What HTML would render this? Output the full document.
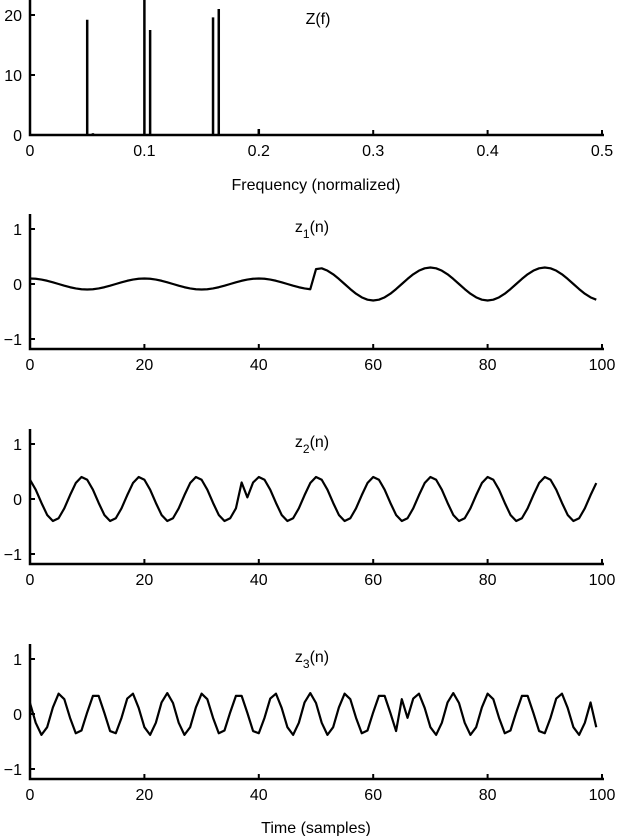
<!DOCTYPE html>
<html><head><meta charset="utf-8"><style>
body{margin:0;background:#fff}
svg{display:block;font-family:"Liberation Sans",sans-serif}
text{font-size:16px;fill:#000}
</style></head><body>
<svg id="s" width="618" height="836" viewBox="0 0 618 836" xmlns="http://www.w3.org/2000/svg"></svg>
<script>
const freqs=[0.05,0.055,0.1,0.105,0.16,0.165,0.2];
const mags=[19.2,0.3,24,17.5,19.6,21,1];
const fTicks=[0,0.1,0.2,0.3,0.4,0.5];
const fYTicks=[0,10,20];
const nTicks=[0,20,40,60,80,100];
const zYTicks=[-1,0,1];
const z1=[0.1,.095,.081,.059,.031,0,-.031,-.059,-.081,-.095,-.1,-.095,-.081,-.059,-.031,0,.031,.059,.081,.095,
0.1,.095,.081,.059,.031,0,-.031,-.059,-.081,-.095,-.1,-.095,-.081,-.059,-.031,0,.031,.059,.081,.095,
0.1,.095,.081,.059,.031,0,-.031,-.059,-.081,-.095,
.27,.285,.243,.177,.093,0,-.093,-.177,-.243,-.285,-.3,-.285,-.243,-.177,-.093,0,.093,.177,.243,.285,
.3,.285,.243,.177,.093,0,-.093,-.177,-.243,-.285,-.3,-.285,-.243,-.177,-.093,0,.093,.177,.243,.285,
.3,.285,.243,.177,.093,0,-.093,-.177,-.243,-.285];
const z2=[.35,.17,-.07,-.29,-.40,-.35,-.17,.07,.29,.40,.35,.17,-.07,-.29,-.40,-.35,-.17,.07,.29,.40,
.35,.17,-.07,-.29,-.40,-.35,-.17,.07,.29,.40,.35,.17,-.07,-.29,-.40,-.35,-.17,.30,.03,.30,
.40,.35,.17,-.07,-.29,-.40,-.35,-.17,.07,.29,.40,.35,.17,-.07,-.29,-.40,-.35,-.17,.07,.29,
.40,.35,.17,-.07,-.29,-.40,-.35,-.17,.07,.29,.40,.35,.17,-.07,-.29,-.40,-.35,-.17,.07,.29,
.40,.35,.17,-.07,-.29,-.40,-.35,-.17,.07,.29,.40,.35,.17,-.07,-.29,-.40,-.35,-.17,.07,.29];
const z3=[.20,-.16,-.38,-.24,.12,.37,.27,-.07,-.35,-.30,.03,.33,.33,.02,-.31,-.35,-.07,.28,.37,.11,-.24,-.38,-.16,.21,.38,
.20,-.16,-.38,-.24,.12,.37,.27,-.07,-.35,-.30,.03,.33,.33,.02,-.31,-.35,-.07,.28,.37,.11,-.24,-.38,-.16,.21,.38,
.20,-.16,-.38,-.24,.12,.37,.27,-.07,-.35,-.30,.03,.33,.33,.02,-.31,.27,-.07,.28,.37,.11,-.24,-.38,-.16,.21,.38,
.20,-.16,-.38,-.24,.12,.37,.27,-.07,-.35,-.30,.03,.33,.33,.02,-.31,-.35,-.07,.28,.37,.11,-.24,-.38,-.16,.21,-.24];
const NS="http://www.w3.org/2000/svg",S=document.getElementById('s');
function el(t,a,p){const e=document.createElementNS(NS,t);for(const k in a)e.setAttribute(k,a[k]);(p||S).appendChild(e);return e;}
function txt(x,y,s,anchor,p){const e=el('text',{x:x,y:y,'text-anchor':anchor||'middle'},p);e.textContent=s;return e;}
const X0=30,X1=602;
function axes(g,yTop,yBottom,sx,sy,xt,yt,xfmt){
  const ax=el('path',{d:`M${X0} ${yTop}V${yBottom}H${X1+2}`,stroke:'#000','stroke-width':2.5,fill:'none'},g);
  
  xt.forEach(v=>{const x=sx(v);el('line',{x1:x,x2:x,y1:yBottom,y2:yBottom-5,stroke:'#000','stroke-width':2},g);
    const t=txt(x,yBottom+21,xfmt(v),'middle',g);});
  yt.forEach(v=>{const y=sy(v);el('line',{x1:X0,x2:X0+5,y1:y,y2:y,stroke:'#000','stroke-width':2},g);
    const t=txt(22,y+6,v<0?'\u2212'+(-v):String(v),'end',g);});
}
{const g=el('g',{});
 const sx=v=>X0+v/0.5*(X1-X0),sy=v=>135-v*6;
 freqs.forEach((f,i)=>{const b=el('line',{x1:sx(f),x2:sx(f),y1:135,y2:Math.max(0,sy(mags[i])),stroke:'#000','stroke-width':2.5},g);
   });
 axes(g,0,135,sx,sy,fTicks,fYTicks,v=>String(v));
 const t=txt(318,24,'Z(f)','middle',g);t.setAttribute('font-size','18');
 const xl=txt(316,190,'Frequency (normalized)','middle',g);
}
function panel(data,zero,sub,name){
  const g=el('g',{});
  const sx=v=>X0+v/100*(X1-X0),sy=v=>zero-v*55;
  axes(g,zero-70,zero+65,sx,sy,nTicks,zYTicks,v=>String(v));
  const p=el('polyline',{points:data.map((v,i)=>sx(i)+','+sy(v)).join(' '),fill:'none',stroke:'#000','stroke-width':2.2,'stroke-linejoin':'round'},g);
  
  const t=el('text',{x:312,y:zero-52,'text-anchor':'middle','font-size':'18'},g);
  
  t.innerHTML='z<tspan dy="6" font-size="12">'+sub+'</tspan><tspan dy="-6">(n)</tspan>';
}
panel(z1,284,1,'z1-panel');
panel(z2,499,2,'z2-panel');
panel(z3,714,3,'z3-panel');
const tl=txt(316,833,'Time (samples)','middle');
</script>
</body></html>
